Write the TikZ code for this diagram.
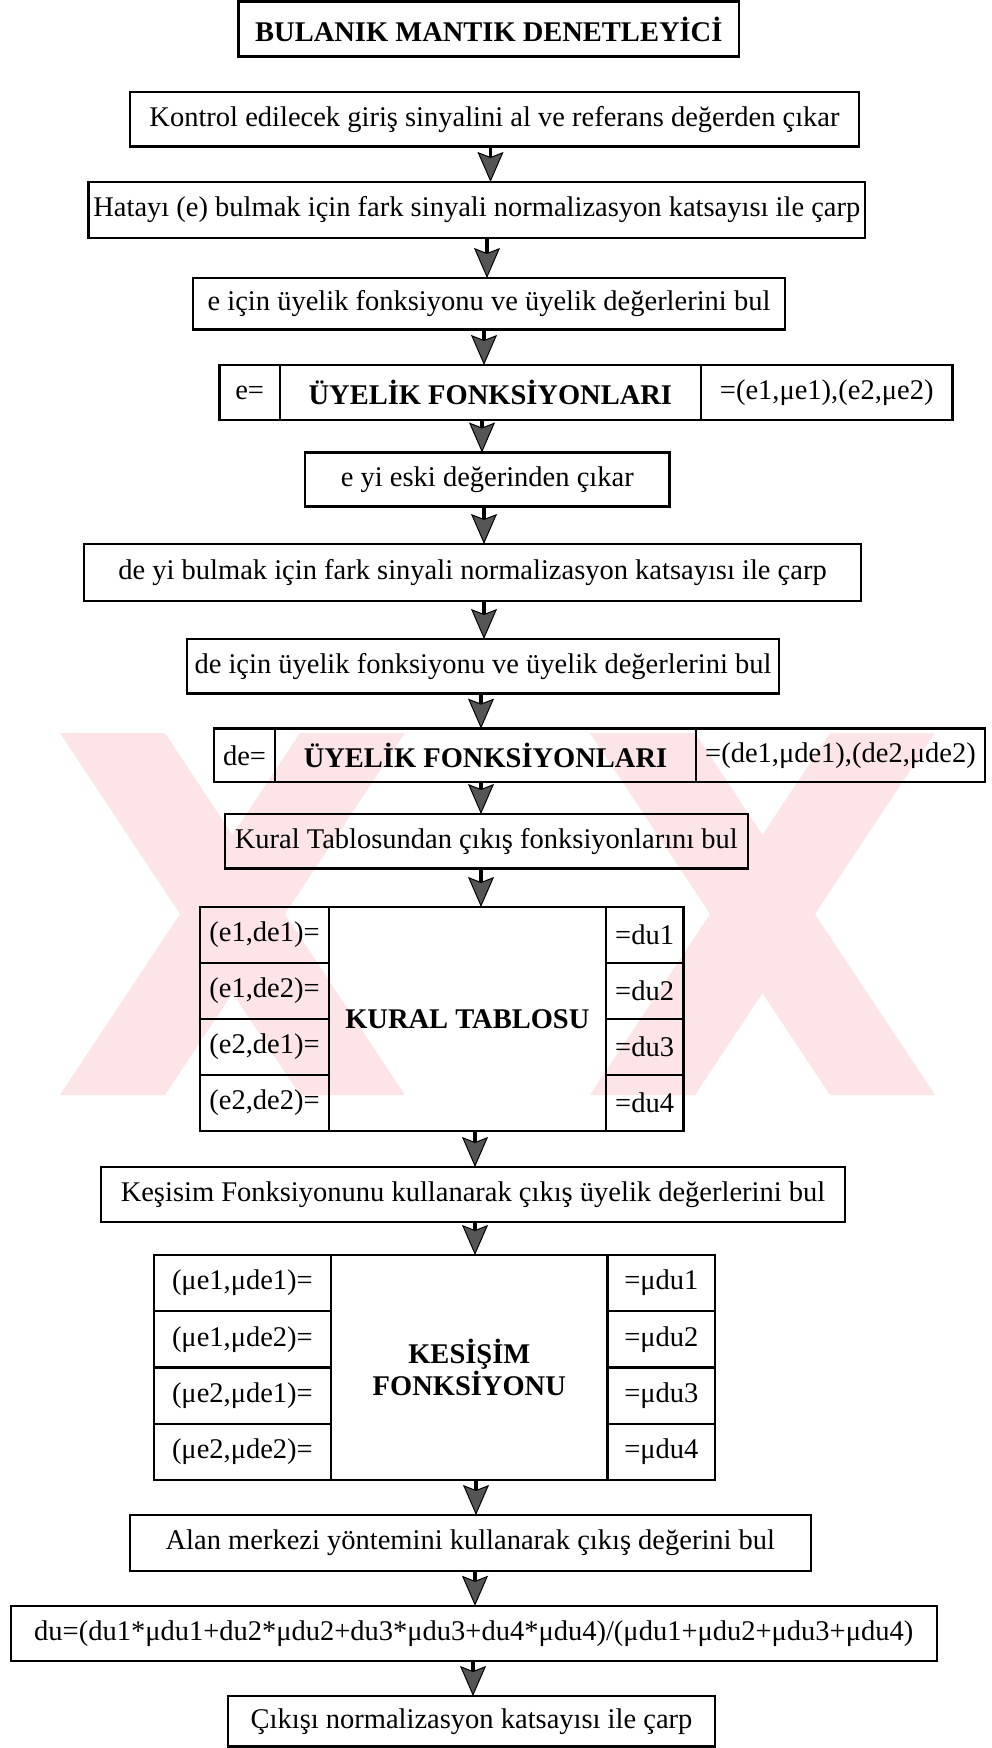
\documentclass[tikz,border=0pt]{standalone}
\usepackage{fontspec}
\setmainfont{Liberation Serif}
\usetikzlibrary{arrows.meta}

\definecolor{wmpink}{RGB}{252,228,231}
\definecolor{headgray}{RGB}{85,85,85}

\tikzset{
  cell/.style={draw, line width=2.4pt, inner sep=0pt, outer sep=0pt, align=center,
               font=\fontsize{28.5}{32}\selectfont},
  boldtext/.style={font=\fontsize{28.5}{32}\selectfont\bfseries},
  flow/.style={draw, line width=3.5pt,
               -{Stealth[length=30pt,width=26pt,inset=5pt,fill=headgray,line width=1pt]}},
}

% \cellbox[options]{name}{x1}{y1}{x2}{y2}{text}: box given by its corners
\newcommand{\cellbox}[7][]{%
  \node[cell,#1,minimum width={#5-#3},minimum height={#6-#4}] (#2)
    at ({(#3+#5)/2},{(#4+#6)/2}) {#7};}

\begin{document}
\begin{tikzpicture}[x=1pt,y=-1pt]
\useasboundingbox (0,0) rectangle (992,1748);

% faint background emblem
\fill[wmpink] (60,733) -- (165,733) -- (405,1095) -- (300,1095) -- cycle;
\fill[wmpink] (300,733) -- (405,733) -- (165,1095) -- (60,1095) -- cycle;
\fill[wmpink] (590,733) -- (695,733) -- (935,1095) -- (830,1095) -- cycle;
\fill[wmpink] (830,733) -- (935,733) -- (695,1095) -- (590,1095) -- cycle;

% flow steps
\cellbox[boldtext]{title}{238.6}{1.5}{739}{56.5}{BULANIK MANTIK DENETLEYİCİ}
\cellbox{n1}{130}{92}{859}{146.5}{Kontrol edilecek giriş sinyalini al ve referans değerden çıkar}
\cellbox{n2}{88.6}{182}{865}{238}{Hatayı (e) bulmak için fark sinyali normalizasyon katsayısı ile çarp}
\cellbox{n3}{193}{278}{785}{329.5}{e için üyelik fonksiyonu ve üyelik değerlerini bul}

% membership functions for e
\cellbox{u1l}{219.6}{365}{279.7}{420}{e=}
\cellbox[boldtext]{u1m}{279.7}{365}{701}{420}{ÜYELİK FONKSİYONLARI}
\cellbox{u1r}{701}{365}{952.5}{420}{=(e1,μe1),(e2,μe2)}

\cellbox{n4}{305}{452.5}{669.6}{506.3}{e yi eski değerinden çıkar}
\cellbox{n5}{84}{544}{861}{601}{de yi bulmak için fark sinyali normalizasyon katsayısı ile çarp}
\cellbox{n6}{187}{639}{779}{693.6}{de için üyelik fonksiyonu ve üyelik değerlerini bul}

% membership functions for de
\cellbox{u2l}{214}{728.6}{275}{782}{de=}
\cellbox[boldtext]{u2m}{275}{728.6}{696}{782}{ÜYELİK FONKSİYONLARI}
\cellbox{u2r}{696}{728.6}{985}{782}{=(de1,μde1),(de2,μde2)}

\cellbox{n7}{224.7}{814}{748}{868.6}{Kural Tablosundan çıkış fonksiyonlarını bul}

% rule table
\cellbox[boldtext]{ktm}{329}{907}{605.7}{1131}{KURAL TABLOSU}
\cellbox{ktl1}{200}{907}{329}{963}{(e1,de1)=}
\cellbox{ktl2}{200}{963}{329}{1019}{(e1,de2)=}
\cellbox{ktl3}{200}{1019}{329}{1075}{(e2,de1)=}
\cellbox{ktl4}{200}{1075}{329}{1131}{(e2,de2)=}
\cellbox{ktr1}{605.7}{907}{683.5}{963}{=du1}
\cellbox{ktr2}{605.7}{963}{683.5}{1019}{=du2}
\cellbox{ktr3}{605.7}{1019}{683.5}{1075}{=du3}
\cellbox{ktr4}{605.7}{1075}{683.5}{1131}{=du4}

\cellbox{n8}{101}{1167}{845}{1221.7}{Keşisim Fonksiyonunu kullanarak çıkış üyelik değerlerini bul}

% intersection table
\cellbox[boldtext]{kfm}{331}{1255}{607.6}{1480}{KESİŞİM\\FONKSİYONU}
\cellbox{kfl1}{153.8}{1255}{331}{1311}{(μe1,μde1)=}
\cellbox{kfl2}{153.8}{1311}{331}{1367.4}{(μe1,μde2)=}
\cellbox{kfl3}{153.8}{1367.4}{331}{1423.8}{(μe2,μde1)=}
\cellbox{kfl4}{153.8}{1423.8}{331}{1480}{(μe2,μde2)=}
\cellbox{kfr1}{607.6}{1255}{715}{1311}{=μdu1}
\cellbox{kfr2}{607.6}{1311}{715}{1367.4}{=μdu2}
\cellbox{kfr3}{607.6}{1367.4}{715}{1423.8}{=μdu3}
\cellbox{kfr4}{607.6}{1423.8}{715}{1480}{=μdu4}

\cellbox{n9}{129.7}{1515}{811}{1570.7}{Alan merkezi yöntemini kullanarak çıkış değerini bul}
\cellbox{n10}{10.8}{1605.8}{936.7}{1661}{du=(du1*μdu1+du2*μdu2+du3*μdu3+du4*μdu4)/(μdu1+μdu2+μdu3+μdu4)}
\cellbox{n11}{228}{1696}{715}{1746.5}{Çıkışı normalizasyon katsayısı ile çarp}

% columns of the connectors
\coordinate (c1) at (490.5,0);
\coordinate (c2) at (487,0);
\coordinate (c3) at (484,0);
\coordinate (c4) at (482,0);
\coordinate (c5) at (481,0);
\coordinate (c6) at (475,0);
\coordinate (c7) at (476,0);
\coordinate (c8) at (473,0);

\draw[flow] (n1.south -| c1) -- (n2.north -| c1);
\draw[flow] (n2.south -| c2) -- (n3.north -| c2);
\draw[flow] (n3.south -| c3) -- (u1m.north -| c3);
\draw[flow] (u1m.south -| c4) -- (n4.north -| c4);
\draw[flow] (n4.south -| c3) -- (n5.north -| c3);
\draw[flow] (n5.south -| c3) -- (n6.north -| c3);
\draw[flow] (n6.south -| c5) -- (u2m.north -| c5);
\draw[flow] (u2m.south -| c5) -- (n7.north -| c5);
\draw[flow] (n7.south -| c5) -- (ktm.north -| c5);
\draw[flow] (ktm.south -| c6) -- (n8.north -| c6);
\draw[flow] (n8.south -| c6) -- (kfm.north -| c6);
\draw[flow] (kfm.south -| c7) -- (n9.north -| c7);
\draw[flow] (n9.south -| c6) -- (n10.north -| c6);
\draw[flow] (n10.south -| c8) -- (n11.north -| c8);
\end{tikzpicture}
\end{document}
